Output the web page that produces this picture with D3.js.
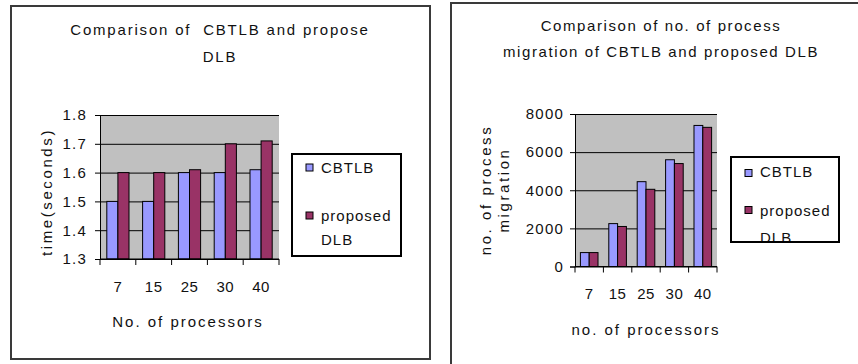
<!DOCTYPE html>
<html>
<head>
<meta charset="utf-8">
<script src="https://cdn.jsdelivr.net/npm/d3@7"></script>
<style>
body { margin: 0; background: #fff; }
svg text { font-family: "Liberation Sans", Arial, sans-serif; fill: #111; white-space: pre; }
</style>
</head>
<body>
<div id="chart"></div>
<script>
const chart_width = 858;
const chart_height = 364;

// data
const processors = ['7', '15', '25', '30', '40'];
const series_names = ['CBTLB', 'proposed DLB'];
const time_cbtlb = [1.5, 1.5, 1.6, 1.6, 1.61];
const time_dlb = [1.6, 1.6, 1.61, 1.7, 1.71];
const migration_cbtlb = [730, 2250, 4450, 5600, 7400];
const migration_dlb = [730, 2100, 4050, 5400, 7300];
const time_ticks = [1.3, 1.4, 1.5, 1.6, 1.7, 1.8];
const migration_ticks = [0, 2000, 4000, 6000, 8000];
const colors = ['#9999ff', '#993366'];

//--------------------------------------------------------------------
// create svg element
const svg = d3.select('#chart')
    .append('svg')
    .attr('width', chart_width)
    .attr('height', chart_height);

function drawPanel(o) {
    const g = svg.append('g');

    // outer frame
    g.append('rect')
        .attr('x', o.box[0]).attr('y', o.box[1])
        .attr('width', o.box[2]).attr('height', o.box[3])
        .attr('fill', '#fff')
        .attr('stroke', '#3a3a3a')
        .attr('stroke-width', 2)
        .attr('shape-rendering', 'crispEdges');

    // title
    g.append('g').selectAll('text')
        .data(o.title)
        .enter()
        .append('text')
        .attr('x', o.title_x)
        .attr('y', (d, i) => o.title_y[i])
        .attr('text-anchor', 'middle')
        .style('font-size', '15px')
        .style('letter-spacing', o.title_ls + 'px')
        .text(d => d);

    // scales
    const x0 = d3.scaleBand()
        .domain(processors)
        .range([o.plot[0], o.plot[1]]);

    const x1 = d3.scaleBand()
        .domain(series_names)
        .range([x0.bandwidth() * 0.19, x0.bandwidth() * 0.81]);

    const y = d3.scaleLinear()
        .domain(o.domain)
        .range([o.plot[3], o.plot[2]]);

    // plot background
    g.append('rect')
        .attr('x', o.plot[0]).attr('y', y(o.domain[1]))
        .attr('width', o.plot[1] - o.plot[0])
        .attr('height', y(o.domain[0]) - y(o.domain[1]))
        .attr('fill', '#c0c0c0');

    // gridlines
    g.append('g')
        .attr('transform', 'translate(' + o.plot[0] + ',0)')
        .call(d3.axisLeft(y).tickValues(o.ticks).tickSize(-(o.plot[1] - o.plot[0])).tickFormat(''))
        .call(s => s.select('.domain').remove())
        .selectAll('line')
        .attr('stroke', '#000');

    // bars
    const rows = processors.map((p, i) => ({
        p: p,
        vals: [o.a[i], o.b[i]]
    }));

    g.append('g').selectAll('g')
        .data(rows)
        .enter()
        .append('g')
        .attr('transform', d => 'translate(' + x0(d.p) + ',0)')
        .selectAll('rect')
        .data(d => d.vals.map((v, k) => ({ name: series_names[k], v: v, k: k })))
        .enter()
        .append('rect')
        .attr('x', d => x1(d.name))
        .attr('y', d => y(d.v))
        .attr('width', x1.bandwidth())
        .attr('height', d => y(o.domain[0]) - y(d.v))
        .attr('fill', d => colors[d.k])
        .attr('stroke', '#000')
        .attr('stroke-width', 1);

    // y axis
    const y_axis = d3.axisLeft(y)
        .tickValues(o.ticks)
        .tickSize(5)
        .tickPadding(o.tick_pad)
        .tickFormat(o.fmt);

    const ya = g.append('g')
        .attr('transform', 'translate(' + o.plot[0] + ',0)')
        .call(y_axis);
    ya.selectAll('text')
        .style('font-size', '15px')
        .style('font-family', '"Liberation Sans", Arial, sans-serif')
        .style('letter-spacing', '1.2px')
        .attr('fill', '#111');
    ya.selectAll('line, path').attr('stroke', '#000');

    // x axis: line, boundary ticks, labels
    const base = y(o.domain[0]);
    g.append('line')
        .attr('x1', o.plot[0]).attr('x2', o.plot[1])
        .attr('y1', base).attr('y2', base)
        .attr('stroke', '#000');

    g.append('g').selectAll('line')
        .data(processors.concat(['end']))
        .enter()
        .append('line')
        .attr('x1', d => d === 'end' ? x0.range()[1] : x0(d))
        .attr('x2', d => d === 'end' ? x0.range()[1] : x0(d))
        .attr('y1', base).attr('y2', base + 6)
        .attr('stroke', '#000');

    g.append('g').selectAll('text')
        .data(processors)
        .enter()
        .append('text')
        .attr('x', d => x0(d) + x0.bandwidth() / 2)
        .attr('y', base + o.xlabel_dy)
        .attr('text-anchor', 'middle')
        .style('font-size', '15px')
        .style('letter-spacing', '0.5px')
        .text(d => d);

    // axis titles
    g.append('text')
        .attr('x', o.xtitle_pos[0])
        .attr('y', o.xtitle_pos[1])
        .attr('text-anchor', 'middle')
        .style('font-size', '15px')
        .style('letter-spacing', '2px')
        .text(o.xtitle);

    g.append('g').selectAll('text')
        .data(o.ytitle)
        .enter()
        .append('text')
        .attr('transform', (d, i) => 'translate(' + o.ytitle_x[i] + ',' + o.ytitle_y + ') rotate(-90)')
        .attr('text-anchor', 'middle')
        .style('font-size', '15px')
        .style('letter-spacing', o.ytitle_ls + 'px')
        .text(d => d);

    // legend (an svg of its own so the last line gets cut at the frame)
    const lb = o.legend;
    const lg = g.append('svg')
        .attr('x', lb[0]).attr('y', lb[1])
        .attr('width', lb[2]).attr('height', lb[3])
        .style('overflow', 'hidden');

    lg.append('rect')
        .attr('width', lb[2]).attr('height', lb[3])
        .attr('fill', '#fff');

    lg.selectAll('rect.key')
        .data(series_names)
        .enter()
        .append('rect')
        .attr('class', 'key')
        .attr('x', o.key_x - lb[0])
        .attr('y', (d, i) => o.key_y[i] - lb[1])
        .attr('width', 7)
        .attr('height', 7)
        .attr('fill', (d, i) => colors[i])
        .attr('stroke', '#000');

    const legend_lines = ['CBTLB', 'proposed', 'DLB'];
    lg.selectAll('text')
        .data(legend_lines)
        .enter()
        .append('text')
        .attr('x', o.key_x - lb[0] + 15)
        .attr('y', (d, i) => o.legend_y[i] - lb[1])
        .style('font-size', '15px')
        .style('letter-spacing', '1px')
        .text(d => d);

    g.append('rect')
        .attr('x', lb[0]).attr('y', lb[1])
        .attr('width', lb[2]).attr('height', lb[3])
        .attr('fill', 'none')
        .attr('stroke', '#000')
        .attr('stroke-width', 1.5)
        .attr('shape-rendering', 'crispEdges');
}

//--------------------------------------------------------------------
// left: time
drawPanel({
    box: [11, 6, 419, 353],
    plot: [100, 279, 115, 259],
    domain: [1.3, 1.8],
    ticks: time_ticks,
    fmt: d3.format('.1f'),
    tick_pad: 8,
    a: time_cbtlb,
    b: time_dlb,
    title: ['Comparison of  CBTLB and propose', 'DLB'],
    title_x: 220,
    title_y: [35, 62],
    title_ls: 1.8,
    xlabel_dy: 33,
    xtitle: 'No. of processors',
    xtitle_pos: [188, 327],
    ytitle: ['time(seconds)'],
    ytitle_x: [52],
    ytitle_y: 192,
    ytitle_ls: 2.6,
    legend: [292, 154, 109, 102],
    key_x: 306,
    key_y: [164, 212],
    legend_y: [173, 221, 245]
});

// right: process migration
drawPanel({
    box: [451, 3, 420, 400],
    plot: [575, 717, 114, 266.5],
    domain: [0, 8000],
    ticks: migration_ticks,
    fmt: d3.format('d'),
    tick_pad: 6,
    a: migration_cbtlb,
    b: migration_dlb,
    title: ['Comparison of no. of process', 'migration of CBTLB and proposed DLB'],
    title_x: 661,
    title_y: [31, 57],
    title_ls: 1.6,
    xlabel_dy: 32.5,
    xtitle: 'no. of processors',
    xtitle_pos: [646, 335],
    ytitle: ['no. of process', 'migration'],
    ytitle_x: [491, 509],
    ytitle_y: 190,
    ytitle_ls: 2.6,
    legend: [731, 157, 108, 85],
    key_x: 745,
    key_y: [169.5, 206.5],
    legend_y: [177, 216, 243]
});
</script>
</body>
</html>
